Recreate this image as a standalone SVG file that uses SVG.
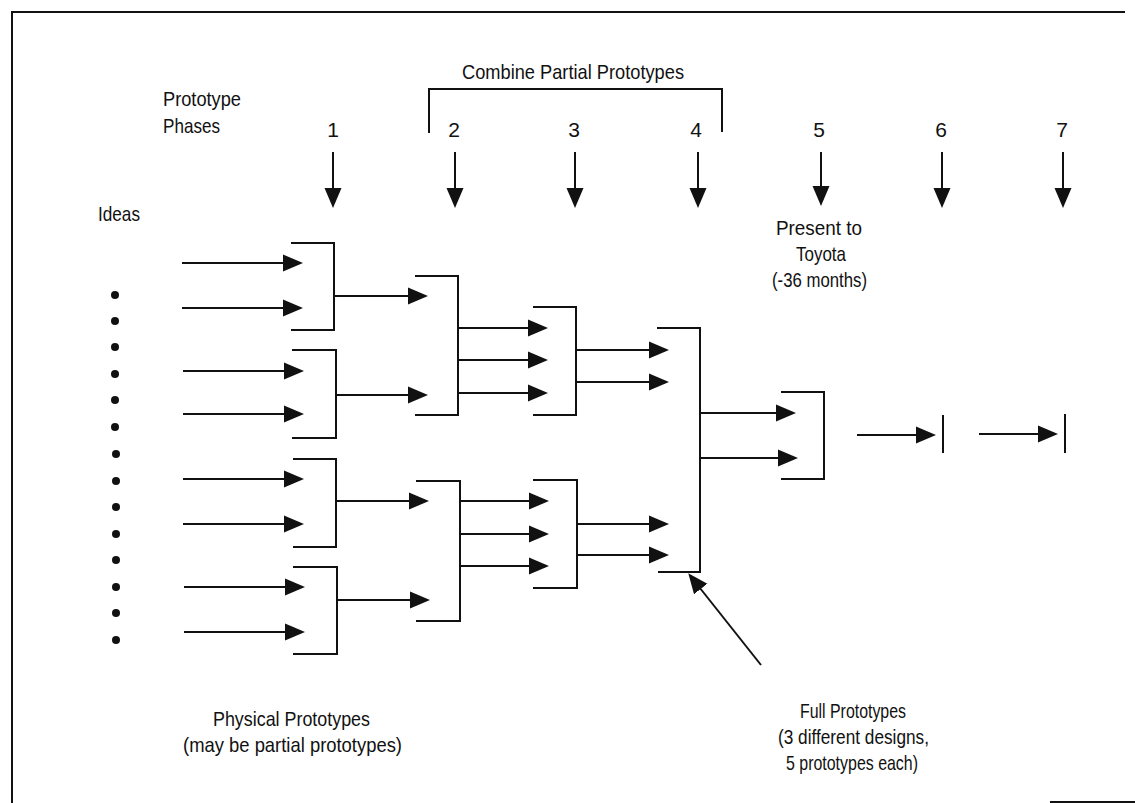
<svg xmlns="http://www.w3.org/2000/svg" width="1135" height="803" viewBox="0 0 1135 803">
<style>
text{font-family:"Liberation Sans Narrow","Liberation Sans",Arial,sans-serif;font-size:21px;fill:#111}
.ln{stroke:#111;stroke-width:2;fill:none}
.ar{stroke:#111;stroke-width:2;fill:none;marker-end:url(#ah)}
.c{text-anchor:middle}
</style>
<defs>
<marker id="ah" markerUnits="userSpaceOnUse" markerWidth="20" markerHeight="18" refX="14" refY="9" orient="auto">
<path d="M0,0.5 L20,9 L0,17.5 z" fill="#111"/>
</marker>
</defs>
<rect width="1135" height="803" fill="#fff"/>
<g id="frame" class="ln">
<path d="M12,803 V12 H1125"/>
<path d="M1050,802 H1135"/>
</g>
<g id="labels">
<text x="163" y="106" textLength="78" lengthAdjust="spacingAndGlyphs">Prototype</text>
<text x="163" y="133" textLength="57" lengthAdjust="spacingAndGlyphs">Phases</text>
<text x="98" y="221" textLength="42" lengthAdjust="spacingAndGlyphs">Ideas</text>
<text x="462" y="79" textLength="222" lengthAdjust="spacingAndGlyphs">Combine Partial Prototypes</text>
<text class="c" x="333" y="137">1</text>
<text class="c" x="454" y="137">2</text>
<text class="c" x="574" y="137">3</text>
<text class="c" x="696" y="137">4</text>
<text class="c" x="819" y="137">5</text>
<text class="c" x="941" y="137">6</text>
<text class="c" x="1062" y="137">7</text>
<text x="776" y="235" textLength="86" lengthAdjust="spacingAndGlyphs">Present to</text>
<text x="796" y="261" textLength="50" lengthAdjust="spacingAndGlyphs">Toyota</text>
<text x="772" y="287" textLength="95" lengthAdjust="spacingAndGlyphs">(-36 months)</text>
<text x="213" y="726" textLength="157" lengthAdjust="spacingAndGlyphs">Physical Prototypes</text>
<text x="183" y="752" textLength="219" lengthAdjust="spacingAndGlyphs">(may be partial prototypes)</text>
<text x="800" y="718" textLength="106" lengthAdjust="spacingAndGlyphs">Full Prototypes</text>
<text x="778" y="744" textLength="151" lengthAdjust="spacingAndGlyphs">(3 different designs,</text>
<text x="786" y="770" textLength="132" lengthAdjust="spacingAndGlyphs">5 prototypes each)</text>
</g>
<g id="combine-bracket" class="ln">
<path d="M429,133 V89 H722 V132"/>
</g>
<g id="ideas-dots" fill="#111">
<circle cx="115" cy="295" r="4"/><circle cx="115" cy="321" r="4"/><circle cx="115" cy="347" r="4"/><circle cx="115" cy="374" r="4"/><circle cx="115" cy="400" r="4"/><circle cx="115" cy="427" r="4"/><circle cx="116" cy="454" r="4"/><circle cx="116" cy="481" r="4"/><circle cx="116" cy="507" r="4"/><circle cx="116" cy="534" r="4"/><circle cx="116" cy="560" r="4"/><circle cx="116" cy="587" r="4"/><circle cx="116" cy="613" r="4"/><circle cx="116" cy="640" r="4"/>
</g>
<g id="stage1-brackets" class="ln">
<path id="s1b1" d="M291,243 H334 V330 H291"/>
<path id="s1b2" d="M292,350 H336 V438 H292"/>
<path id="s1b3" d="M293,459 H336 V547 H293"/>
<path id="s1b4" d="M293,567 H337 V654 H293"/>
</g>
<g id="stage2-brackets" class="ln">
<path id="s2b1" d="M415,276 H458 V415 H415"/>
<path id="s2b2" d="M416,481 H460 V621 H416"/>
</g>
<g id="stage3-brackets" class="ln">
<path id="s3b1" d="M533,307 H576 V415 H533"/>
<path id="s3b2" d="M533,480 H577 V588 H533"/>
</g>
<g id="stage4-bracket" class="ln">
<path d="M657,328 H700 V572 H658"/>
</g>
<g id="stage5-bracket" class="ln">
<path d="M781,392 H824 V479 H781"/>
</g>
<g id="end-bars" class="ln">
<path d="M943,415 V453"/>
<path d="M1065,414 V453"/>
</g>
<g id="connectors">
<g id="phase-arrows" class="ar">
<path d="M333,152 V202"/><path d="M455,152 V202"/><path d="M575,152 V202"/><path d="M698,152 V202"/><path d="M821,152 V200"/><path d="M942,152 V202"/><path d="M1063,152 V202"/>
</g>
<g id="idea-arrows" class="ar">
<path d="M182,263 H297"/><path d="M182,308 H297"/><path d="M183,371 H298"/><path d="M183,414 H298"/><path d="M183,479 H298"/><path d="M183,524 H298"/><path d="M184,587 H299"/><path d="M184,632 H299"/>
</g>
<g id="s1-out" class="ar">
<path d="M334,296 H422"/><path d="M336,395 H422"/><path d="M336,501 H423"/><path d="M337,600 H424"/>
</g>
<g id="s2-out" class="ar">
<path d="M458,328 H542"/><path d="M458,360 H542"/><path d="M458,393 H542"/><path d="M460,501 H543"/><path d="M460,534 H543"/><path d="M460,566 H543"/>
</g>
<g id="s3-out" class="ar">
<path d="M576,350 H663"/><path d="M576,382 H663"/><path d="M577,524 H663"/><path d="M577,555 H663"/>
</g>
<g id="s4-out" class="ar">
<path d="M700,413 H790"/><path d="M700,458 H792"/>
</g>
<g id="s5-out" class="ar">
<path d="M857,435 H930"/><path d="M979,434 H1052"/>
</g>
<path id="full-pointer" class="ar" d="M761,665 L692,578"/>
</g>
</svg>
